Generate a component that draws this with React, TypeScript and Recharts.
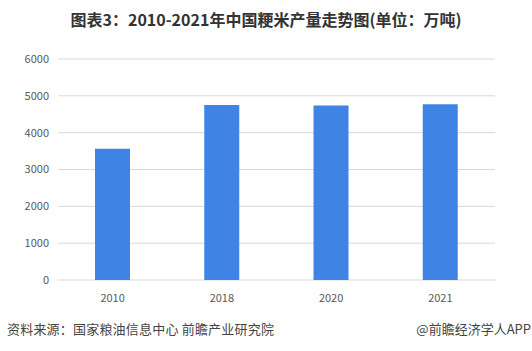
import React from 'react';
import { BarChart, Bar, XAxis, YAxis, CartesianGrid } from 'recharts';

const years = ['2010', '2018', '2020', '2021'];
const output = [3560, 4750, 4740, 4770];
const yTicks = [0, 1000, 2000, 3000, 4000, 5000, 6000];

const data = years.map((year, i) => ({ year, value: output[i] }));

const font = '"Noto Sans CJK SC", "Microsoft YaHei", sans-serif';

const App: React.FC = () => {
  return <div style={{
    position: 'fixed',
    left: 0,
    top: 0,
    width: 532,
    height: 351,
    background: '#fff',
    fontFamily: font
  }}>
      <div style={{
      position: 'absolute',
      top: 7,
      left: 0,
      width: 532,
      textAlign: 'center',
      fontSize: 16,
      fontWeight: 'bold',
      color: '#333'
    }}>
        图表3：2010-2021年中国粳米产量走势图(单位：万吨)
      </div>
      <BarChart width={532} height={351} data={data} margin={{
      top: 59,
      right: 37,
      left: 2,
      bottom: 41
    }}>
        <CartesianGrid vertical={false} stroke="#d9d9d9" />
        <XAxis dataKey="year" height={30} axisLine={false} tickLine={false} tickMargin={8} tick={{
        fontSize: 11,
        fill: '#595959',
        fontFamily: font
      }} />
        <YAxis width={56} domain={[0, 6000]} ticks={yTicks} axisLine={false} tickLine={false} tickMargin={3} tick={{
        fontSize: 11,
        fill: '#595959',
        fontFamily: font
      }} />
        <Bar dataKey="value" fill="#3f84e4" barSize={35} isAnimationActive={false} />
      </BarChart>
      <div style={{
      position: 'absolute',
      top: 319,
      left: 7,
      fontSize: 13,
      letterSpacing: 0.2,
      color: '#444'
    }}>
        资料来源：国家粮油信息中心 前瞻产业研究院
      </div>
      <div style={{
      position: 'absolute',
      top: 319,
      right: 1,
      fontSize: 13,
      color: '#444'
    }}>
        @前瞻经济学人APP
      </div>
    </div>;
};

export default App;
